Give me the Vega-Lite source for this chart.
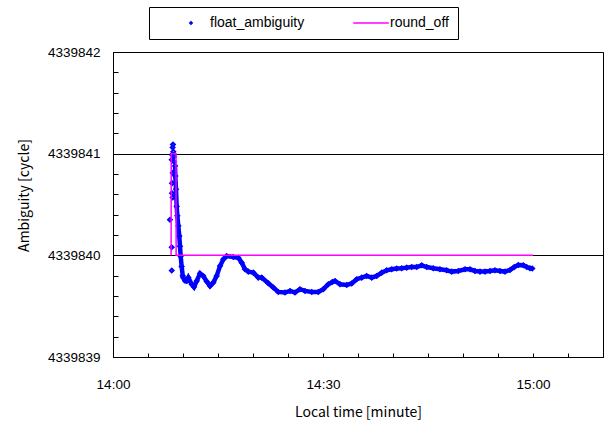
{
  "$schema": "https://vega.github.io/schema/vega-lite/v6.json",
  "width": 490,
  "height": 305,
  "autosize": {"type": "none"},
  "padding": {"left": 113, "top": 52, "right": 2, "bottom": 66},
  "background": "white",
  "config": {
    "font": "Noto Sans CJK JP",
    "view": {"stroke": "black", "strokeWidth": 1},
    "axis": {
      "domainColor": "black", "tickColor": "black", "labelColor": "black", "titleColor": "black",
      "labelFont": "Liberation Sans", "labelFontSize": 13.5,
      "titleFont": "Noto Sans CJK JP", "titleFontSize": 14, "titleFontWeight": "normal", "domainWidth": 1
    }
  },
  "datasets": {
    "float": [
      {"t": 8.14, "v": 4339840.35, "series": "float_ambiguity"},
      {"t": 8.39, "v": 4339840.08, "series": "float_ambiguity"},
      {"t": 8.39, "v": 4339839.85, "series": "float_ambiguity"},
      {"t": 8.39, "v": 4339840.94, "series": "float_ambiguity"},
      {"t": 8.43, "v": 4339840.99, "series": "float_ambiguity"},
      {"t": 8.43, "v": 4339840.71, "series": "float_ambiguity"},
      {"t": 8.43, "v": 4339840.61, "series": "float_ambiguity"},
      {"t": 8.52, "v": 4339841.06, "series": "float_ambiguity"},
      {"t": 8.53, "v": 4339840.81, "series": "float_ambiguity"},
      {"t": 8.53, "v": 4339840.57, "series": "float_ambiguity"},
      {"t": 8.57, "v": 4339841.09, "series": "float_ambiguity"},
      {"t": 8.62, "v": 4339841.02, "series": "float_ambiguity"},
      {"t": 8.71, "v": 4339840.97, "series": "float_ambiguity"},
      {"t": 8.71, "v": 4339840.92, "series": "float_ambiguity"},
      {"t": 8.86, "v": 4339840.88, "series": "float_ambiguity"},
      {"t": 8.9, "v": 4339840.78, "series": "float_ambiguity"},
      {"t": 9.0, "v": 4339840.65, "series": "float_ambiguity"},
      {"t": 9.1, "v": 4339840.48, "series": "float_ambiguity"},
      {"t": 9.19, "v": 4339840.39, "series": "float_ambiguity"},
      {"t": 9.33, "v": 4339840.29, "series": "float_ambiguity"},
      {"t": 9.47, "v": 4339840.19, "series": "float_ambiguity"},
      {"t": 9.57, "v": 4339840.09, "series": "float_ambiguity"},
      {"t": 9.67, "v": 4339839.99, "series": "float_ambiguity"},
      {"t": 9.81, "v": 4339839.89, "series": "float_ambiguity"},
      {"t": 9.96, "v": 4339839.8, "series": "float_ambiguity"},
      {"t": 10.04, "v": 4339839.78, "series": "float_ambiguity"},
      {"t": 10.29, "v": 4339839.75, "series": "float_ambiguity"},
      {"t": 10.53, "v": 4339839.748, "series": "float_ambiguity"},
      {"t": 10.76, "v": 4339839.781, "series": "float_ambiguity"},
      {"t": 11.24, "v": 4339839.716, "series": "float_ambiguity"},
      {"t": 11.57, "v": 4339839.689, "series": "float_ambiguity"},
      {"t": 11.96, "v": 4339839.748, "series": "float_ambiguity"},
      {"t": 12.43, "v": 4339839.821, "series": "float_ambiguity"},
      {"t": 12.9, "v": 4339839.797, "series": "float_ambiguity"},
      {"t": 13.39, "v": 4339839.742, "series": "float_ambiguity"},
      {"t": 13.86, "v": 4339839.699, "series": "float_ambiguity"},
      {"t": 14.33, "v": 4339839.732, "series": "float_ambiguity"},
      {"t": 14.81, "v": 4339839.797, "series": "float_ambiguity"},
      {"t": 15.29, "v": 4339839.895, "series": "float_ambiguity"},
      {"t": 15.76, "v": 4339839.961, "series": "float_ambiguity"},
      {"t": 16.24, "v": 4339839.993, "series": "float_ambiguity"},
      {"t": 17.19, "v": 4339839.983, "series": "float_ambiguity"},
      {"t": 17.9, "v": 4339839.977, "series": "float_ambiguity"},
      {"t": 18.39, "v": 4339839.928, "series": "float_ambiguity"},
      {"t": 18.86, "v": 4339839.863, "series": "float_ambiguity"},
      {"t": 19.33, "v": 4339839.84, "series": "float_ambiguity"},
      {"t": 20.04, "v": 4339839.83, "series": "float_ambiguity"},
      {"t": 20.76, "v": 4339839.781, "series": "float_ambiguity"},
      {"t": 21.24, "v": 4339839.781, "series": "float_ambiguity"},
      {"t": 22.19, "v": 4339839.725, "series": "float_ambiguity"},
      {"t": 22.9, "v": 4339839.683, "series": "float_ambiguity"},
      {"t": 23.61, "v": 4339839.64, "series": "float_ambiguity"},
      {"t": 24.57, "v": 4339839.634, "series": "float_ambiguity"},
      {"t": 25.29, "v": 4339839.65, "series": "float_ambiguity"},
      {"t": 26.0, "v": 4339839.634, "series": "float_ambiguity"},
      {"t": 26.71, "v": 4339839.667, "series": "float_ambiguity"},
      {"t": 27.43, "v": 4339839.65, "series": "float_ambiguity"},
      {"t": 28.39, "v": 4339839.64, "series": "float_ambiguity"},
      {"t": 29.33, "v": 4339839.64, "series": "float_ambiguity"},
      {"t": 30.04, "v": 4339839.667, "series": "float_ambiguity"},
      {"t": 30.76, "v": 4339839.716, "series": "float_ambiguity"},
      {"t": 31.33, "v": 4339839.738, "series": "float_ambiguity"},
      {"t": 31.71, "v": 4339839.748, "series": "float_ambiguity"},
      {"t": 32.43, "v": 4339839.716, "series": "float_ambiguity"},
      {"t": 33.39, "v": 4339839.709, "series": "float_ambiguity"},
      {"t": 34.1, "v": 4339839.723, "series": "float_ambiguity"},
      {"t": 34.81, "v": 4339839.765, "series": "float_ambiguity"},
      {"t": 35.53, "v": 4339839.781, "series": "float_ambiguity"},
      {"t": 36.24, "v": 4339839.797, "series": "float_ambiguity"},
      {"t": 36.96, "v": 4339839.781, "series": "float_ambiguity"},
      {"t": 37.67, "v": 4339839.797, "series": "float_ambiguity"},
      {"t": 38.39, "v": 4339839.83, "series": "float_ambiguity"},
      {"t": 39.1, "v": 4339839.853, "series": "float_ambiguity"},
      {"t": 39.81, "v": 4339839.863, "series": "float_ambiguity"},
      {"t": 40.53, "v": 4339839.87, "series": "float_ambiguity"},
      {"t": 41.24, "v": 4339839.873, "series": "float_ambiguity"},
      {"t": 41.96, "v": 4339839.879, "series": "float_ambiguity"},
      {"t": 42.67, "v": 4339839.885, "series": "float_ambiguity"},
      {"t": 43.39, "v": 4339839.885, "series": "float_ambiguity"},
      {"t": 44.1, "v": 4339839.902, "series": "float_ambiguity"},
      {"t": 44.81, "v": 4339839.885, "series": "float_ambiguity"},
      {"t": 45.76, "v": 4339839.873, "series": "float_ambiguity"},
      {"t": 46.71, "v": 4339839.863, "series": "float_ambiguity"},
      {"t": 47.67, "v": 4339839.853, "series": "float_ambiguity"},
      {"t": 48.39, "v": 4339839.84, "series": "float_ambiguity"},
      {"t": 49.33, "v": 4339839.846, "series": "float_ambiguity"},
      {"t": 50.29, "v": 4339839.863, "series": "float_ambiguity"},
      {"t": 51.0, "v": 4339839.863, "series": "float_ambiguity"},
      {"t": 51.71, "v": 4339839.846, "series": "float_ambiguity"},
      {"t": 52.43, "v": 4339839.84, "series": "float_ambiguity"},
      {"t": 53.14, "v": 4339839.84, "series": "float_ambiguity"},
      {"t": 53.86, "v": 4339839.846, "series": "float_ambiguity"},
      {"t": 54.57, "v": 4339839.853, "series": "float_ambiguity"},
      {"t": 55.29, "v": 4339839.846, "series": "float_ambiguity"},
      {"t": 56.0, "v": 4339839.84, "series": "float_ambiguity"},
      {"t": 56.71, "v": 4339839.856, "series": "float_ambiguity"},
      {"t": 57.33, "v": 4339839.885, "series": "float_ambiguity"},
      {"t": 57.9, "v": 4339839.905, "series": "float_ambiguity"},
      {"t": 58.61, "v": 4339839.902, "series": "float_ambiguity"},
      {"t": 59.1, "v": 4339839.885, "series": "float_ambiguity"},
      {"t": 59.57, "v": 4339839.873, "series": "float_ambiguity"},
      {"t": 59.9, "v": 4339839.87, "series": "float_ambiguity"}
    ],
    "round": [
      {"t": 8.3, "v": 4339840, "series": "round_off"},
      {"t": 8.32, "v": 4339841, "series": "round_off"},
      {"t": 9.0, "v": 4339841, "series": "round_off"},
      {"t": 9.02, "v": 4339840, "series": "round_off"},
      {"t": 60.0, "v": 4339840, "series": "round_off"}
    ]
  },
  "encoding": {
    "x": {
      "field": "t", "type": "quantitative",
      "scale": {"domain": [0, 70], "nice": false, "zero": false},
      "axis": {
        "title": "Local time [minute]",
        "values": [0, 5, 10, 15, 20, 25, 30, 35, 40, 45, 50, 55, 60, 65, 70],
        "labelExpr": "datum.value == 0 ? '14:00' : datum.value == 30 ? '14:30' : datum.value == 60 ? '15:00' : ''",
        "grid": false,
        "tickSize": -4,
        "labelPadding": 24,
        "titlePadding": 15,
        "labelFlush": false
      }
    },
    "y": {
      "field": "v", "type": "quantitative",
      "scale": {"domain": [4339839, 4339842], "nice": false, "zero": false},
      "axis": {
        "title": "Ambiguity [cycle]",
        "values": [4339839, 4339839.2, 4339839.4, 4339839.6, 4339839.8, 4339840, 4339840.2, 4339840.4, 4339840.6, 4339840.8, 4339841, 4339841.2, 4339841.4, 4339841.6, 4339841.8, 4339842],
        "labelExpr": "abs(datum.value - round(datum.value)) < 0.01 ? format(datum.value, 'd') : ''",
        "grid": true,
        "gridColor": {"condition": {"test": "abs(datum.value - round(datum.value)) < 0.01", "value": "black"}, "value": "transparent"},
        "gridOpacity": 1,
        "tickSize": -5,
        "labelPadding": 18,
        "titlePadding": 16,
        "titleY": 143,
        "labelFlush": false
      }
    }
  },
  "layer": [
    {
      "data": {"name": "float"},
      "transform": [{"filter": "datum.t >= 8.8"}],
      "mark": {"type": "line", "color": "#0000FF", "strokeWidth": 4.5},
      "encoding": {}
    },
    {
      "data": {"name": "float"},
      "mark": {"type": "point", "filled": false, "size": 14, "strokeWidth": 2, "opacity": 1},
      "encoding": {
        "color": {
          "field": "series", "type": "nominal",
          "scale": {"domain": ["float_ambiguity", "round_off"], "range": ["#0000FF", "#FF00FF"]},
          "legend": {
            "title": null, "orient": "none", "legendX": 36, "legendY": -45,
            "direction": "horizontal", "strokeColor": "black", "fillColor": "white",
            "padding": 9, "columnPadding": 33, "labelFont": "Liberation Sans", "labelFontSize": 14,
            "symbolOffset": 26, "labelOffset": 12,
            "symbolSize": 6, "symbolStrokeWidth": 1.5,
            "encode": {"symbols": {"update": {"fill": {"scale": "color", "field": "value"}, "stroke": {"scale": "color", "field": "value"}, "strokeOpacity": {"value": 1}}}}
          }
        },
        "shape": {
          "field": "series", "type": "nominal",
          "scale": {"domain": ["float_ambiguity", "round_off"], "range": ["diamond", "M-14.5,0H14.5"]},
          "legend": {
            "title": null, "orient": "none", "legendX": 36, "legendY": -45,
            "direction": "horizontal", "strokeColor": "black", "fillColor": "white",
            "padding": 9, "columnPadding": 33, "labelFont": "Liberation Sans", "labelFontSize": 14,
            "symbolOffset": 26, "labelOffset": 12,
            "symbolSize": 6, "symbolStrokeWidth": 1.5,
            "encode": {"symbols": {"update": {"fill": {"scale": "color", "field": "value"}, "stroke": {"scale": "color", "field": "value"}, "strokeOpacity": {"value": 1}}}}
          }
        }
      }
    },
    {
      "data": {"name": "round"},
      "mark": {"type": "line", "color": "#FF00FF", "strokeWidth": 1.5},
      "encoding": {}
    }
  ]
}
